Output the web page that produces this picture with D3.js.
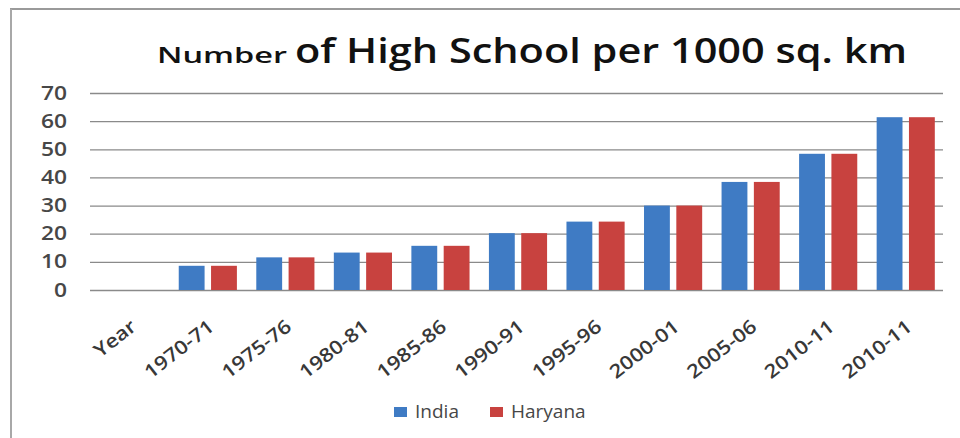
<!DOCTYPE html>
<html>
<head>
<meta charset="utf-8">
<script src="https://cdn.jsdelivr.net/npm/d3@7"></script>
<style>
  body { margin: 0; background: #fff; }
  svg { display: block; }
</style>
</head>
<body>
<script>
// categories along the x axis (first one is just the header cell "Year")
var years = ["Year", "1970-71", "1975-76", "1980-81", "1985-86", "1990-91",
             "1995-96", "2000-01", "2005-06", "2010-11", "2010-11"];
var seriesNames = ["India", "Haryana"];
var india   = [null, 8.6, 11.6, 13.3, 15.7, 20.2, 24.3, 30.0, 38.4, 48.4, 61.4];
var haryana = [null, 8.6, 11.6, 13.3, 15.7, 20.2, 24.3, 30.0, 38.4, 48.4, 61.4];
var yTicks = [0, 10, 20, 30, 40, 50, 60, 70];
var colors = ["#3f7bc4", "#c8423f"];

var W = 960, H = 438;
var plotL = 90, plotR = 943, plotT = 93, plotB = 290;
var labelFont = "'Open Sans', sans-serif";

var svg = d3.select("body").append("svg")
    .attr("width", W)
    .attr("height", H);

// frame (only top and left edges show)
svg.append("line").attr("x1", 10).attr("x2", W).attr("y1", 9).attr("y2", 9)
   .attr("stroke", "#9a9a9a").attr("stroke-width", 2);
svg.append("line").attr("x1", 11).attr("x2", 11).attr("y1", 9).attr("y2", H)
   .attr("stroke", "#a8a8a8").attr("stroke-width", 2);

// title
svg.append("text")
   .attr("x", 157).attr("y", 63)
   .attr("textLength", 130).attr("lengthAdjust", "spacingAndGlyphs")
   .style("font-family", "'Open Sans', sans-serif").style("font-weight", 600)
   .style("font-size", "22px").attr("fill", "#111")
   .text("Number");
svg.append("text")
   .attr("x", 295).attr("y", 63)
   .attr("textLength", 612).attr("lengthAdjust", "spacingAndGlyphs")
   .style("font-family", "'Open Sans', sans-serif").style("font-weight", 600)
   .style("font-size", "35px").attr("fill", "#111")
   .text("of High School per 1000 sq. km");

var x0 = d3.scaleBand().domain(d3.range(years.length)).range([plotL, plotR]);
var x1 = d3.scaleBand().domain(seriesNames).range([1.5, x0.bandwidth() + 1.5])
    .paddingInner(0.2).paddingOuter(0.3);
var y = d3.scaleLinear().domain([0, 70]).range([plotB, plotT]);

// gridlines + y labels (labels stretched a little sideways)
var yAxis = svg.append("g")
    .attr("transform", "translate(" + plotL + ",0)")
    .call(d3.axisLeft(y).tickValues(yTicks).tickSize(-(plotR - plotL)).tickPadding(0));
yAxis.select(".domain").remove();
yAxis.selectAll(".tick line").attr("stroke", "#8a8a8a").attr("stroke-width", 1.3);
yAxis.selectAll(".tick text")
   .attr("x", null)
   .attr("transform", "translate(-23,0) scale(1.2,1)")
   .style("font-family", labelFont).style("font-weight", 600).style("font-size", "19px")
   .attr("fill", "#474747");

// bars
var rows = years.map(function(d, i) {
  return { i: i, vals: [india[i], haryana[i]] };
});
var groups = svg.selectAll("g.cat")
    .data(rows)
    .enter().append("g")
    .attr("class", "cat")
    .attr("transform", function(d) { return "translate(" + x0(d.i) + ",0)"; });
groups.selectAll("rect")
    .data(function(d) {
      return d.vals.map(function(v, k) { return { name: seriesNames[k], v: v, k: k }; })
                   .filter(function(e) { return e.v != null; });
    })
    .enter().append("rect")
    .attr("x", function(d) { return x1(d.name); })
    .attr("width", x1.bandwidth())
    .attr("y", function(d) { return y(d.v); })
    .attr("height", function(d) { return plotB - y(d.v); })
    .attr("fill", function(d) { return colors[d.k]; });

// rotated category labels
svg.selectAll("text.xlab")
    .data(years)
    .enter().append("text")
    .attr("class", "xlab")
    .attr("text-anchor", "end")
    .attr("transform", function(d, i) {
      var cx = x0(i) + x0.bandwidth() / 2 + 9;
      return "translate(" + cx + ",329) rotate(-38) scale(1.15,1)";
    })
    .style("font-family", labelFont).style("font-weight", 600).style("font-size", "19px")
    .attr("fill", "#383838")
    .text(function(d) { return d; });

// legend
var legend = svg.selectAll("g.leg")
    .data(seriesNames)
    .enter().append("g")
    .attr("class", "leg")
    .attr("transform", function(d, i) { return "translate(" + (394 + i * 96) + ",407)"; });
legend.append("rect")
    .attr("width", 13).attr("height", 10)
    .attr("fill", function(d, i) { return colors[i]; });
legend.append("text")
    .attr("x", 21).attr("y", 11)
    .style("font-family", labelFont).style("font-size", "19px")
    .attr("fill", "#474747")
    .text(function(d) { return d; });
</script>
</body>
</html>
